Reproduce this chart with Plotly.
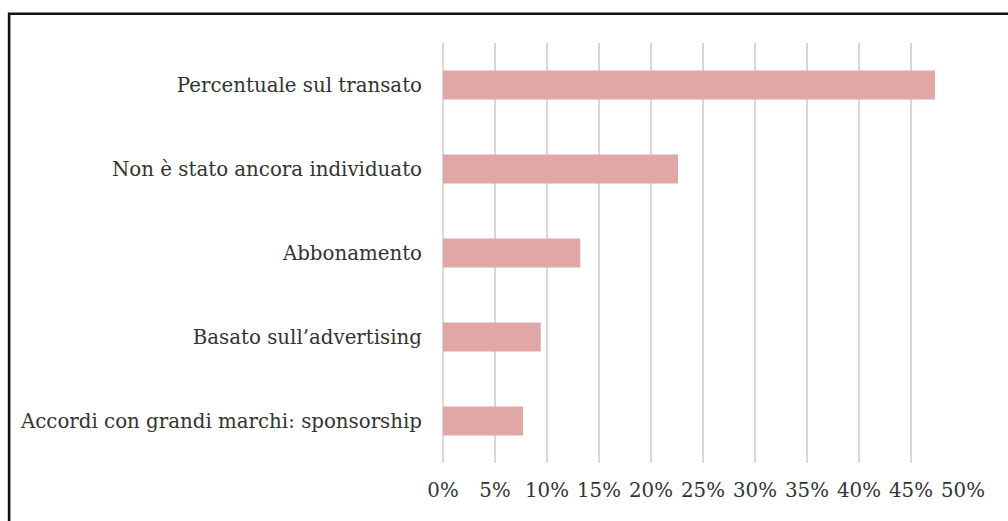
import plotly.graph_objects as go

# Revenue model categories, listed top to bottom
categories = [
    "Percentuale sul transato",
    "Non è stato ancora individuato",
    "Abbonamento",
    "Basato sull\u2019advertising",
    "Accordi con grandi marchi: sponsorship",
]
shares = [0.473, 0.226, 0.132, 0.094, 0.077]
tick_values = [0, 0.05, 0.10, 0.15, 0.20, 0.25, 0.30, 0.35, 0.40, 0.45, 0.50]

W, H = 1008, 521
L, R, T, B = 442.7, 44.7, 42.7, 58
plot_w = W - L - R
plot_h = H - T - B

font = dict(family="DejaVu Serif", size=19.8, color="#333333")
grid_color = "#d9d9d9"

fig = go.Figure(
    go.Bar(
        x=shares,
        y=categories,
        orientation="h",
        marker=dict(color="rgb(225,167,166)", line=dict(width=0)),
        hoverinfo="x+y",
    )
)

# Outer frame: only left and top edges fall inside the canvas
def px_x(px):
    return (px - L) / plot_w

def px_y(py):
    return 1 - (py - T) / plot_h

fig.add_shape(
    type="rect",
    xref="paper", yref="paper",
    x0=px_x(8.3), x1=px_x(1030),
    y0=px_y(560), y1=px_y(13.5),
    line=dict(color="#111111", width=2.6),
    fillcolor="rgba(0,0,0,0)",
    layer="below",
)

fig.update_layout(
    width=W,
    height=H,
    margin=dict(l=L, r=R, t=T, b=B, pad=0),
    paper_bgcolor="white",
    plot_bgcolor="white",
    bargap=0.655,
    showlegend=False,
    font=font,
    xaxis=dict(
        range=[0, 0.5],
        tickvals=tick_values,
        tickformat=".0%",
        showgrid=True,
        gridcolor=grid_color,
        gridwidth=1.6,
        zeroline=True,
        zerolinecolor=grid_color,
        zerolinewidth=1.6,
        showline=False,
        ticks="",
        ticklabelstandoff=13,
        tickfont=font,
    ),
    yaxis=dict(
        autorange="reversed",
        showgrid=False,
        zeroline=False,
        showline=False,
        ticks="",
        ticklabelstandoff=20,
        tickfont=font,
    ),
)

fig.write_html("out.html")
